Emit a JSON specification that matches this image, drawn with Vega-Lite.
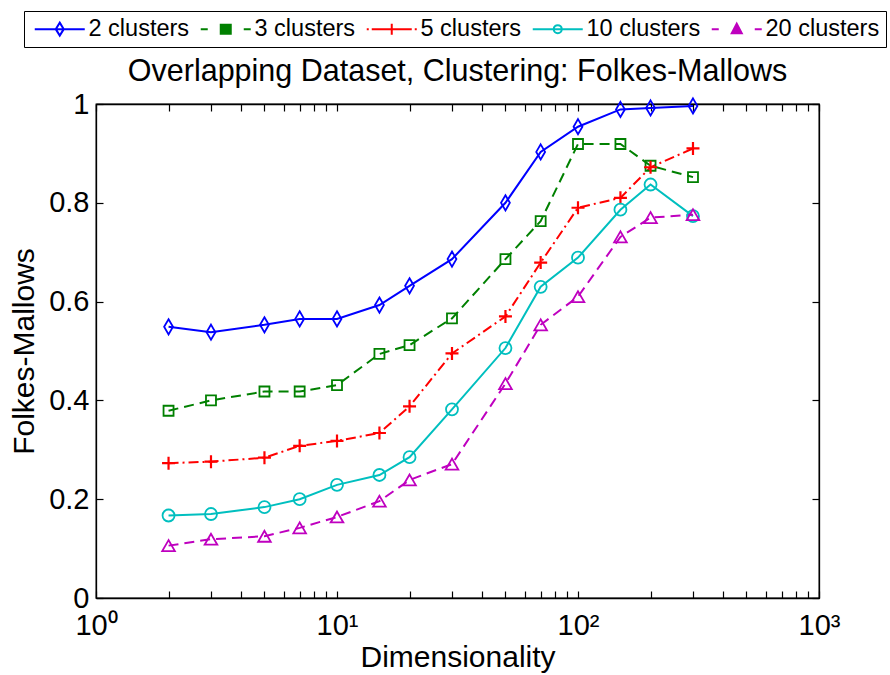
{
  "$schema": "https://vega.github.io/schema/vega-lite/v6.json",
  "width": 723,
  "height": 494,
  "autosize": "none",
  "padding": {"left": 96, "top": 104, "right": 71, "bottom": 77},
  "background": "white",
  "title": {
    "text": "Overlapping Dataset, Clustering: Folkes-Mallows",
    "fontSize": 30.5,
    "fontWeight": "normal",
    "font": "Liberation Sans",
    "color": "black",
    "anchor": "middle",
    "offset": -77
  },
  "config": {
    "font": "Liberation Sans",
    "view": {"stroke": "black", "strokeWidth": 1.3},
    "axis": {
      "grid": false,
      "domainColor": "black",
      "domainWidth": 1.3,
      "tickColor": "black",
      "tickWidth": 1.2,
      "tickSize": -7,
      "labelColor": "black",
      "titleColor": "black",
      "labelFont": "Liberation Sans",
      "titleFont": "Liberation Sans",
      "labelFontSize": 29,
      "titleFontSize": 30,
      "titleFontWeight": "normal"
    }
  },
  "data": {
    "values": [
      {"d": 2, "v": 0.549, "s": "2 clusters"},
      {"d": 3, "v": 0.538, "s": "2 clusters"},
      {"d": 5, "v": 0.553, "s": "2 clusters"},
      {"d": 7, "v": 0.565, "s": "2 clusters"},
      {"d": 10, "v": 0.565, "s": "2 clusters"},
      {"d": 15, "v": 0.593, "s": "2 clusters"},
      {"d": 20, "v": 0.632, "s": "2 clusters"},
      {"d": 30, "v": 0.686, "s": "2 clusters"},
      {"d": 50, "v": 0.8, "s": "2 clusters"},
      {"d": 70, "v": 0.903, "s": "2 clusters"},
      {"d": 100, "v": 0.954, "s": "2 clusters"},
      {"d": 150, "v": 0.989, "s": "2 clusters"},
      {"d": 200, "v": 0.992, "s": "2 clusters"},
      {"d": 300, "v": 0.996, "s": "2 clusters"},
      {"d": 2, "v": 0.379, "s": "3 clusters"},
      {"d": 3, "v": 0.4, "s": "3 clusters"},
      {"d": 5, "v": 0.418, "s": "3 clusters"},
      {"d": 7, "v": 0.418, "s": "3 clusters"},
      {"d": 10, "v": 0.431, "s": "3 clusters"},
      {"d": 15, "v": 0.494, "s": "3 clusters"},
      {"d": 20, "v": 0.512, "s": "3 clusters"},
      {"d": 30, "v": 0.566, "s": "3 clusters"},
      {"d": 50, "v": 0.686, "s": "3 clusters"},
      {"d": 70, "v": 0.763, "s": "3 clusters"},
      {"d": 100, "v": 0.919, "s": "3 clusters"},
      {"d": 150, "v": 0.919, "s": "3 clusters"},
      {"d": 200, "v": 0.875, "s": "3 clusters"},
      {"d": 300, "v": 0.852, "s": "3 clusters"},
      {"d": 2, "v": 0.273, "s": "5 clusters"},
      {"d": 3, "v": 0.276, "s": "5 clusters"},
      {"d": 5, "v": 0.284, "s": "5 clusters"},
      {"d": 7, "v": 0.308, "s": "5 clusters"},
      {"d": 10, "v": 0.318, "s": "5 clusters"},
      {"d": 15, "v": 0.334, "s": "5 clusters"},
      {"d": 20, "v": 0.388, "s": "5 clusters"},
      {"d": 30, "v": 0.495, "s": "5 clusters"},
      {"d": 50, "v": 0.57, "s": "5 clusters"},
      {"d": 70, "v": 0.679, "s": "5 clusters"},
      {"d": 100, "v": 0.79, "s": "5 clusters"},
      {"d": 150, "v": 0.81, "s": "5 clusters"},
      {"d": 200, "v": 0.872, "s": "5 clusters"},
      {"d": 300, "v": 0.91, "s": "5 clusters"},
      {"d": 2, "v": 0.167, "s": "10 clusters"},
      {"d": 3, "v": 0.17, "s": "10 clusters"},
      {"d": 5, "v": 0.184, "s": "10 clusters"},
      {"d": 7, "v": 0.2, "s": "10 clusters"},
      {"d": 10, "v": 0.229, "s": "10 clusters"},
      {"d": 15, "v": 0.249, "s": "10 clusters"},
      {"d": 20, "v": 0.285, "s": "10 clusters"},
      {"d": 30, "v": 0.382, "s": "10 clusters"},
      {"d": 50, "v": 0.506, "s": "10 clusters"},
      {"d": 70, "v": 0.63, "s": "10 clusters"},
      {"d": 100, "v": 0.689, "s": "10 clusters"},
      {"d": 150, "v": 0.786, "s": "10 clusters"},
      {"d": 200, "v": 0.837, "s": "10 clusters"},
      {"d": 300, "v": 0.773, "s": "10 clusters"},
      {"d": 2, "v": 0.106, "s": "20 clusters"},
      {"d": 3, "v": 0.119, "s": "20 clusters"},
      {"d": 5, "v": 0.125, "s": "20 clusters"},
      {"d": 7, "v": 0.142, "s": "20 clusters"},
      {"d": 10, "v": 0.164, "s": "20 clusters"},
      {"d": 15, "v": 0.196, "s": "20 clusters"},
      {"d": 20, "v": 0.239, "s": "20 clusters"},
      {"d": 30, "v": 0.271, "s": "20 clusters"},
      {"d": 50, "v": 0.434, "s": "20 clusters"},
      {"d": 70, "v": 0.553, "s": "20 clusters"},
      {"d": 100, "v": 0.61, "s": "20 clusters"},
      {"d": 150, "v": 0.731, "s": "20 clusters"},
      {"d": 200, "v": 0.77, "s": "20 clusters"},
      {"d": 300, "v": 0.776, "s": "20 clusters"}
    ]
  },
  "encoding": {
    "x": {
      "field": "d", "type": "quantitative",
      "scale": {"type": "log", "domain": [1, 1000], "nice": false},
      "axis": null
    },
    "y": {
      "field": "v", "type": "quantitative",
      "scale": {"domain": [0, 1], "nice": false},
      "axis": null
    },
    "color": {
      "field": "s", "type": "nominal",
      "sort": ["2 clusters", "3 clusters", "5 clusters", "10 clusters", "20 clusters"],
      "scale": {
        "domain": ["2 clusters", "3 clusters", "5 clusters", "10 clusters", "20 clusters"],
        "range": ["#0000ff", "#008000", "#ff0000", "#00bfbf", "#bf00bf"]
      },
      "legend": {
        "orient": "none",
        "legendX": -72,
        "legendY": -93,
        "direction": "horizontal",
        "title": null,
        "strokeColor": "black",
        "fillColor": "white",
        "padding": 6,
        "symbolSize": 400,
        "symbolStrokeWidth": 2,
        "labelFontSize": 23.5,
        "labelColor": "black",
        "labelFont": "Liberation Sans",
        "labelOffset": 35,
        "columnPadding": 6,
        "encode": {
          "symbols": {
            "update": {
              "shape": {"signal": "datum.value === '2 clusters' ? 'M-0.7,0H4.3M1.8,-0.65L2.2,0L1.8,0.65L1.4,0Z' : datum.value === '3 clusters' ? 'M-0.7,0H0M1.3,-0.45H2.3V0.45H1.3ZM3.6,0H4.3' : datum.value === '5 clusters' ? 'M-0.7,0H-0.5M-0.2,0H3.8M1.8,-0.55V0.55M4.1,0H4.3' : datum.value === '10 clusters' ? 'M-0.7,0H4.3M2.2,0A0.4,0.4 0 1,1 1.4,0A0.4,0.4 0 1,1 2.2,0' : 'M-0.7,0H0M1.8,-0.55L2.3,0.4H1.3ZM3.6,0H4.3'"},
              "stroke": {"signal": "scale('color', datum.value)"},
              "fill": {"signal": "(datum.value === '3 clusters' || datum.value === '20 clusters') ? scale('color', datum.value) : 'transparent'"},
              "strokeDash": {"value": []},
              "strokeWidth": {"value": 2},
              "opacity": {"value": 1}
            }
          }
        }
      }
    }
  },
  "resolve": {"axis": {"x": "independent", "y": "independent"}},
  "layer": [
    {
      "transform": [{"filter": "datum.s == '2 clusters' || datum.s == '10 clusters'"}],
      "mark": {"type": "line", "strokeWidth": 2},
      "encoding": {
        "x": {
          "field": "d", "type": "quantitative",
          "scale": {"type": "log", "domain": [1, 1000], "nice": false},
          "axis": {
            "orient": "bottom",
            "title": "Dimensionality",
            "values": [1,2,3,4,5,6,7,8,9,10,20,30,40,50,60,70,80,90,100,200,300,400,500,600,700,800,900,1000],
            "labelExpr": "datum.value == 1 ? '10⁰' : datum.value == 10 ? '10¹' : datum.value == 100 ? '10²' : datum.value == 1000 ? '10³' : ''",
            "labelOverlap": false,
            "labelFlush": false,
            "labelPadding": 20,
            "titlePadding": 2
          }
        },
        "y": {
          "field": "v", "type": "quantitative",
          "scale": {"domain": [0, 1], "nice": false},
          "axis": {
            "orient": "left",
            "title": "Folkes-Mallows",
            "values": [0, 0.2, 0.4, 0.6, 0.8, 1],
            "labelExpr": "datum.value == 0 ? '0' : datum.value == 1 ? '1' : format(datum.value, '.1f')",
            "labelPadding": 14,
            "titlePadding": 9
          }
        },
        "detail": {"field": "s", "type": "nominal"}
      }
    },
    {
      "transform": [{"filter": "datum.s == '3 clusters' || datum.s == '20 clusters'"}],
      "mark": {"type": "line", "strokeWidth": 2, "strokeDash": [10, 6]},
      "encoding": {
        "x": {
          "field": "d", "type": "quantitative",
          "scale": {"type": "log", "domain": [1, 1000], "nice": false},
          "axis": {
            "orient": "top",
            "title": null,
            "labels": false,
            "values": [1,2,3,4,5,6,7,8,9,10,20,30,40,50,60,70,80,90,100,200,300,400,500,600,700,800,900,1000]
          }
        },
        "y": {
          "field": "v", "type": "quantitative",
          "scale": {"domain": [0, 1], "nice": false},
          "axis": {
            "orient": "right",
            "title": null,
            "labels": false,
            "values": [0, 0.2, 0.4, 0.6, 0.8, 1]
          }
        },
        "detail": {"field": "s", "type": "nominal"}
      }
    },
    {
      "transform": [{"filter": "datum.s == '5 clusters'"}],
      "mark": {"type": "line", "strokeWidth": 2, "strokeDash": [10, 4, 2, 4]}
    },
    {
      "transform": [{"filter": "datum.s == '2 clusters'"}],
      "mark": {"type": "point", "filled": false, "strokeWidth": 1.8, "opacity": 1, "shape": "M0,-1.2L0.7,0L0,1.2L-0.7,0Z", "size": 160}
    },
    {
      "transform": [{"filter": "datum.s == '3 clusters'"}],
      "mark": {"type": "point", "filled": false, "strokeWidth": 1.8, "opacity": 1, "shape": "square", "size": 100}
    },
    {
      "transform": [{"filter": "datum.s == '5 clusters'"}],
      "mark": {"type": "point", "filled": false, "strokeWidth": 2.2, "opacity": 1, "shape": "M-1,0H1M0,-1V1", "size": 169}
    },
    {
      "transform": [{"filter": "datum.s == '10 clusters'"}],
      "mark": {"type": "point", "filled": false, "strokeWidth": 1.8, "opacity": 1, "shape": "circle", "size": 144}
    },
    {
      "transform": [{"filter": "datum.s == '20 clusters'"}],
      "mark": {"type": "point", "filled": false, "strokeWidth": 1.8, "opacity": 1, "shape": "triangle-up", "size": 160}
    }
  ]
}
